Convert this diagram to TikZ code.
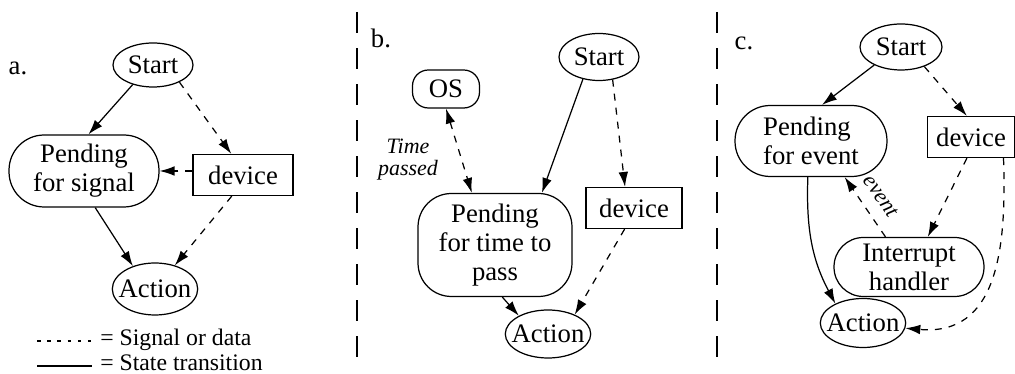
\documentclass[tikz,border=0pt]{standalone}
\usepackage{fontspec}
\setmainfont{Liberation Serif}
\usetikzlibrary{arrows.meta,shapes.geometric}

\begin{document}
\begin{tikzpicture}[x=0.02cm, y=0.02cm,
		every node/.style={font=\fontsize{15.2}{16.5}\selectfont, inner sep=0pt, align=center},
		state/.style={draw, ellipse, line width=0.7pt, inner xsep=-3.5pt},
		waitbox/.style={draw, rectangle, line width=0.7pt},
		devbox/.style={draw, rectangle, line width=0.7pt, minimum height=0.82cm},
		note/.style={font=\fontsize{12.5}{12.5}\selectfont\itshape},
		key/.style={anchor=base west, font=\fontsize{13.5}{14}\selectfont},
		trans/.style={line width=0.7pt, -{Latex[length=8.5pt,width=5.5pt]}},
		sig/.style={trans, dash pattern=on 4pt off 4pt},
		sep/.style={line width=0.7pt, dash pattern=on 12pt off 8.5pt}]
			%%%%% START %%%%%
			
			\useasboundingbox (0,0) rectangle (1015,-374);
			
			\draw[sep] (357,-12) -- (357,-372);
			\draw[sep] (717,-12) -- (717,-372);
			
			% a.
			\node (labA) at (18,-68) {a.};
			\node[state, minimum width=1.6cm, minimum height=0.88cm] (startA) at (153,-65) {Start};
			\node[waitbox, rounded corners=20pt, minimum width=3cm, minimum height=1.44cm] (pendA) at (84,-171) {Pending\\for signal};
			\node[devbox, minimum width=2cm] (devA) at (243,-175) {device};
			\node[state, minimum width=1.7cm, minimum height=1.04cm] (actA) at (155,-289) {Action};
			
			\draw[trans] (startA.224) -- (pendA.83);
			\draw[sig] (startA.327) -- (devA.119);
			\draw[sig] (devA.west |- pendA.east) -- (pendA.east);
			\draw[trans] (pendA.287) -- (actA.134);
			\draw[sig] (devA.242) -- (actA.50);
			
			\coordinate (keyA) at (37,-341);
			\coordinate (keyB) at (37,-366);
			\draw[line width=0.7pt, dash pattern=on 2pt off 3.8pt] (keyA) -- ++(58,0);
			\draw[line width=0.7pt] (keyB) -- ++(55,0);
			\node[key] (keyTxtA) at (100,-346) {= Signal or data};
			\node[key] (keyTxtB) at (100,-371) {= State transition};
			
			% b.
			\node (labB) at (381,-38) {b.};
			\node[state, minimum width=1.6cm, minimum height=0.94cm] (startB) at (599,-57) {Start};
			\node[waitbox, rounded corners=9pt, minimum width=1.34cm, minimum height=0.76cm] (osB) at (446,-89) {OS};
			\node[note] (timeB) at (408,-160) {Time\\passed};
			\node[waitbox, rounded corners=19pt, minimum width=3.08cm, minimum height=2.06cm] (pendB) at (495,-245) {Pending\\for time to\\pass};
			\node[devbox, minimum width=1.92cm] (devB) at (634,-208) {device};
			\node[state, minimum width=1.7cm, minimum height=0.96cm] (actB) at (548,-334) {Action};
			
			\draw[sig, {Latex[length=8.5pt,width=5.5pt]}-{Latex[length=8.5pt,width=5.5pt]}] (osB.south) -- (pendB.114);
			\draw[trans] (startB.234) -- (pendB.48);
			\draw[sig] (startB.301) -- (devB.113);
			\draw[sig] (devB.246) -- (actB.36);
			\draw[trans] (pendB.278) -- (actB.148);
			
			% c.
			\node (labC) at (744,-43) {c.};
			\node[state, minimum width=1.64cm, minimum height=0.92cm] (startC) at (901,-47) {Start};
			\node[waitbox, rounded corners=20pt, minimum width=3.04cm, minimum height=1.42cm, align=left] (pendC) at (811,-141) {Pending\\for event};
			\node[devbox, minimum width=1.74cm] (devC) at (971,-137) {device};
			\node[waitbox, rounded corners=16.7pt, minimum width=3cm, minimum height=1.18cm] (intC) at (909,-267) {Interrupt\\handler};
			\node[state, minimum width=1.68cm, minimum height=0.98cm] (actC) at (863,-323) {Action};
			
			\draw[trans] (startC.214) -- (pendC.73);
			\draw[sig] (startC.320) -- (devC.101);
			\draw[sig] (devC.259) -- (intC.58);
			\draw[sig] (intC.128) -- node[note, midway, sloped, above=7pt] (evC) {event} (pendC.313);
			\draw[trans] (pendC.265) to[out=-92, in=118] (actC.145);
			\draw[sig] (devC.327) to[out=-88, in=-5, looseness=1.2] (actC.353);
			
			%%%%% END %%%%%
\end{tikzpicture}
\end{document}
